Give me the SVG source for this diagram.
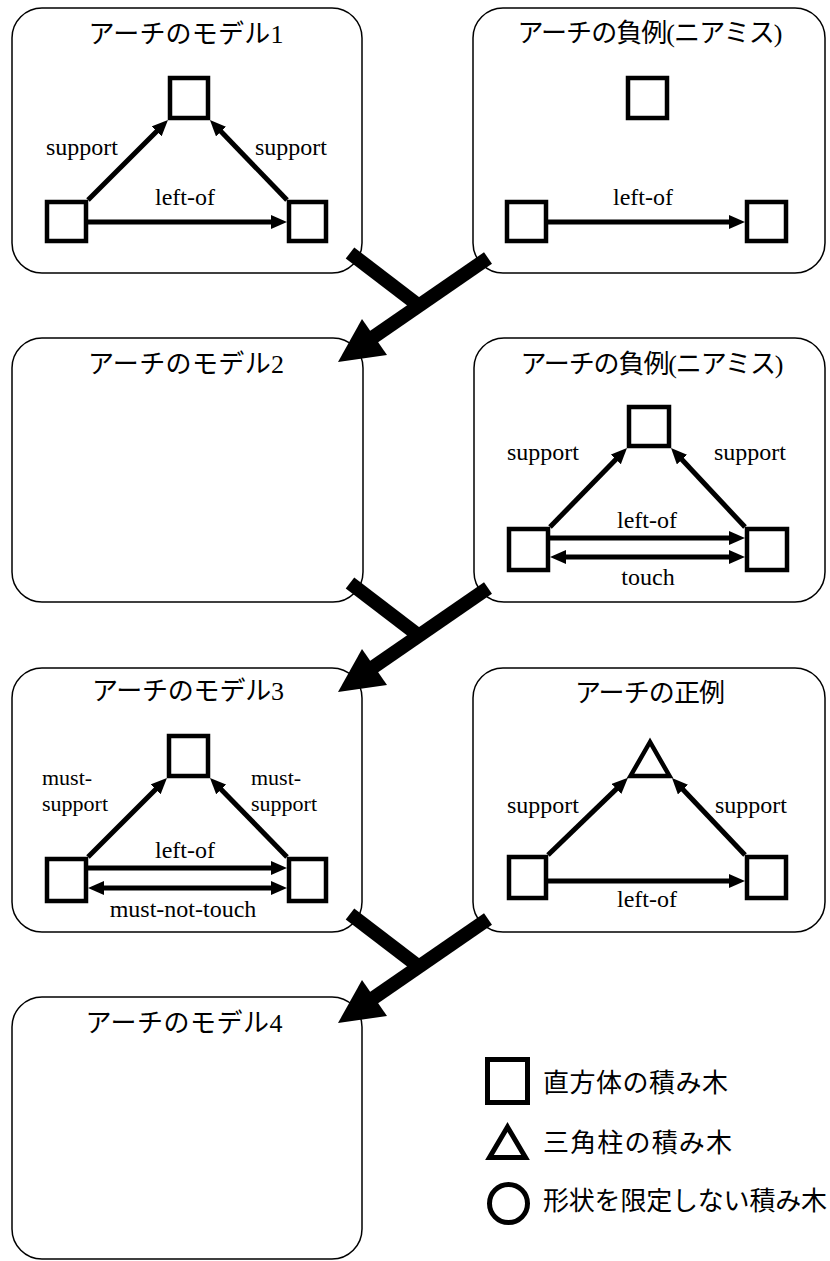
<svg xmlns="http://www.w3.org/2000/svg" width="830" height="1261" viewBox="0 0 830 1261">
<style>
.panel{fill:none;stroke:#000;stroke-width:1.5}
.blk{fill:#fff;stroke:#000;stroke-width:4.5;stroke-linejoin:miter}
.lg{fill:#fff;stroke:#000;stroke-width:5}
.title{font-family:"Liberation Serif","Times New Roman","DejaVu Serif","Noto Sans CJK JP",serif;font-size:26px;fill:#000;text-anchor:middle}
.lbl{font-family:"Liberation Serif","Times New Roman","DejaVu Serif",serif;font-size:24px;fill:#000;text-anchor:middle}
.lbls{font-family:"Liberation Serif","Times New Roman","DejaVu Serif",serif;font-size:22px;fill:#000}
.leg{font-family:"Liberation Serif","DejaVu Serif","Noto Sans CJK JP",serif;font-size:26px;fill:#000}
.rel{stroke:#000;stroke-width:5;fill:none;marker-end:url(#ah)}
.rel2{stroke:#000;stroke-width:5;fill:none;marker-end:url(#ah);marker-start:url(#ah)}
.big{stroke:#000;stroke-width:14;fill:none}
</style>
<defs>
<marker id="ah" viewBox="0 0 16 14" refX="8" refY="7" markerWidth="16" markerHeight="14" markerUnits="userSpaceOnUse" orient="auto-start-reverse">
<path d="M0,0 L16,7 L0,14 z" fill="#000"/>
</marker>
</defs>
<rect x="0" y="0" width="830" height="1261" fill="#fff"/>

<g id="panel-model1">
<rect class="panel" x="12" y="8" width="350" height="265" rx="30" ry="30"/>
<text class="title" x="186" y="43" textLength="195" lengthAdjust="spacing">アーチのモデル1</text>
</g>
<g id="panel-neg1">
<rect class="panel" x="473" y="8" width="352" height="265" rx="30" ry="30"/>
<text class="title" x="650" y="42" textLength="265" lengthAdjust="spacing">アーチの負例(ニアミス)</text>
</g>
<g id="panel-model2">
<rect class="panel" x="12" y="338" width="351" height="264" rx="30" ry="30"/>
<text class="title" x="186" y="373" textLength="196" lengthAdjust="spacing">アーチのモデル2</text>
</g>
<g id="panel-neg2">
<rect class="panel" x="474" y="338" width="351" height="264" rx="30" ry="30"/>
<text class="title" x="652" y="373" textLength="263" lengthAdjust="spacing">アーチの負例(ニアミス)</text>
</g>
<g id="panel-model3">
<rect class="panel" x="12" y="668" width="350" height="264" rx="30" ry="30"/>
<text class="title" x="188" y="700" textLength="192" lengthAdjust="spacing">アーチのモデル3</text>
</g>
<g id="panel-pos">
<rect class="panel" x="473" y="668" width="352" height="264" rx="30" ry="30"/>
<text class="title" x="650" y="702" textLength="150" lengthAdjust="spacing">アーチの正例</text>
</g>
<g id="panel-model4">
<rect class="panel" x="12" y="997" width="350" height="262" rx="30" ry="30"/>
<text class="title" x="184" y="1032" textLength="197" lengthAdjust="spacing">アーチのモデル4</text>
</g>

<g id="p1-top"><rect class="blk" x="170" y="78" width="38" height="40"/></g>
<g id="p1-left"><rect class="blk" x="47" y="202" width="39" height="39"/></g>
<g id="p1-right"><rect class="blk" x="289" y="202" width="37" height="39"/></g>

<g id="p2-top"><rect class="blk" x="628" y="78" width="39" height="40"/></g>
<g id="p2-left"><rect class="blk" x="507" y="202" width="39" height="39"/></g>
<g id="p2-right"><rect class="blk" x="747" y="202" width="39" height="39"/></g>

<g id="p4-top"><rect class="blk" x="629" y="407" width="40" height="39"/></g>
<g id="p4-left"><rect class="blk" x="509" y="529" width="39" height="41"/></g>
<g id="p4-right"><rect class="blk" x="747" y="529" width="40" height="41"/></g>

<g id="p5-top"><rect class="blk" x="169" y="736" width="39" height="40"/></g>
<g id="p5-left"><rect class="blk" x="47" y="859" width="39" height="42"/></g>
<g id="p5-right"><rect class="blk" x="289" y="859" width="37" height="42"/></g>

<g id="p6-top"><polygon class="blk" points="650,742 630.5,776 669.5,776"/></g>
<g id="p6-left"><rect class="blk" x="509" y="857" width="37" height="41"/></g>
<g id="p6-right"><rect class="blk" x="747" y="857" width="39" height="41"/></g>

<g id="connectors">
<line class="rel" x1="88" y1="200" x2="162.3" y2="125.7"/>
<line class="rel" x1="287" y1="200" x2="215.5" y2="125.8"/>
<line class="rel" x1="88" y1="222" x2="279" y2="222"/>
<text class="lbl" x="82" y="155">support</text>
<text class="lbl" x="291" y="155">support</text>
<text class="lbl" x="185" y="205">left-of</text>

<line class="rel" x1="548" y1="222" x2="737" y2="222"/>
<text class="lbl" x="643" y="205">left-of</text>

<line class="rel" x1="550" y1="527" x2="621.4" y2="453.7"/>
<line class="rel" x1="745" y1="527" x2="676.5" y2="453.8"/>
<line class="rel" x1="550" y1="538" x2="737" y2="538"/>
<line class="rel2" x1="558" y1="557" x2="737" y2="557"/>
<text class="lbl" x="543" y="460">support</text>
<text class="lbl" x="750" y="460">support</text>
<text class="lbl" x="647" y="528">left-of</text>
<text class="lbl" x="648" y="585">touch</text>

<line class="rel" x1="88" y1="857" x2="161.3" y2="783.7"/>
<line class="rel" x1="287" y1="857" x2="215.6" y2="783.7"/>
<line class="rel" x1="88" y1="868" x2="279" y2="868"/>
<line class="rel2" x1="96" y1="888" x2="279" y2="888"/>
<text class="lbls"><tspan x="42" y="785">must-</tspan><tspan x="42" y="811">support</tspan></text>
<text class="lbls"><tspan x="251" y="785">must-</tspan><tspan x="251" y="811">support</tspan></text>
<text class="lbl" x="185" y="858">left-of</text>
<text class="lbl" x="183" y="917">must-not-touch</text>

<line class="rel" x1="548" y1="855" x2="622.2" y2="783.4"/>
<line class="rel" x1="745" y1="855" x2="677.5" y2="783.8"/>
<line class="rel" x1="548" y1="881" x2="737" y2="881"/>
<text class="lbl" x="543" y="813">support</text>
<text class="lbl" x="751" y="813">support</text>
<text class="lbl" x="647" y="907">left-of</text>

<g id="merge1">
<line class="big" x1="350" y1="253" x2="418" y2="305"/>
<line class="big" x1="488" y1="258" x2="372" y2="338"/>
<polygon points="338,362 362,319 387,355" fill="#000"/>
</g>
<g id="merge2">
<line class="big" x1="350" y1="583" x2="418" y2="635"/>
<line class="big" x1="488" y1="588" x2="372" y2="668"/>
<polygon points="338,692 362,649 387,685" fill="#000"/>
</g>
<g id="merge3">
<line class="big" x1="350" y1="914" x2="418" y2="966"/>
<line class="big" x1="488" y1="919" x2="372" y2="999"/>
<polygon points="338,1023 362,980 387,1016" fill="#000"/>
</g>
</g>

<g id="legend">
<g id="legend-box"><rect class="lg" x="487.5" y="1059.5" width="40" height="43"/><text class="leg" x="543" y="1092" textLength="185" lengthAdjust="spacing">直方体の積み木</text></g>
<g id="legend-tri"><polygon class="lg" points="507.5,1127 489.5,1157.5 525.5,1157.5"/><text class="leg" x="543" y="1152" textLength="189" lengthAdjust="spacing">三角柱の積み木</text></g>
<g id="legend-circle"><circle class="lg" cx="508.5" cy="1203.5" r="19"/><text class="leg" x="543" y="1210" textLength="284" lengthAdjust="spacing">形状を限定しない積み木</text></g>
</g>
</svg>
